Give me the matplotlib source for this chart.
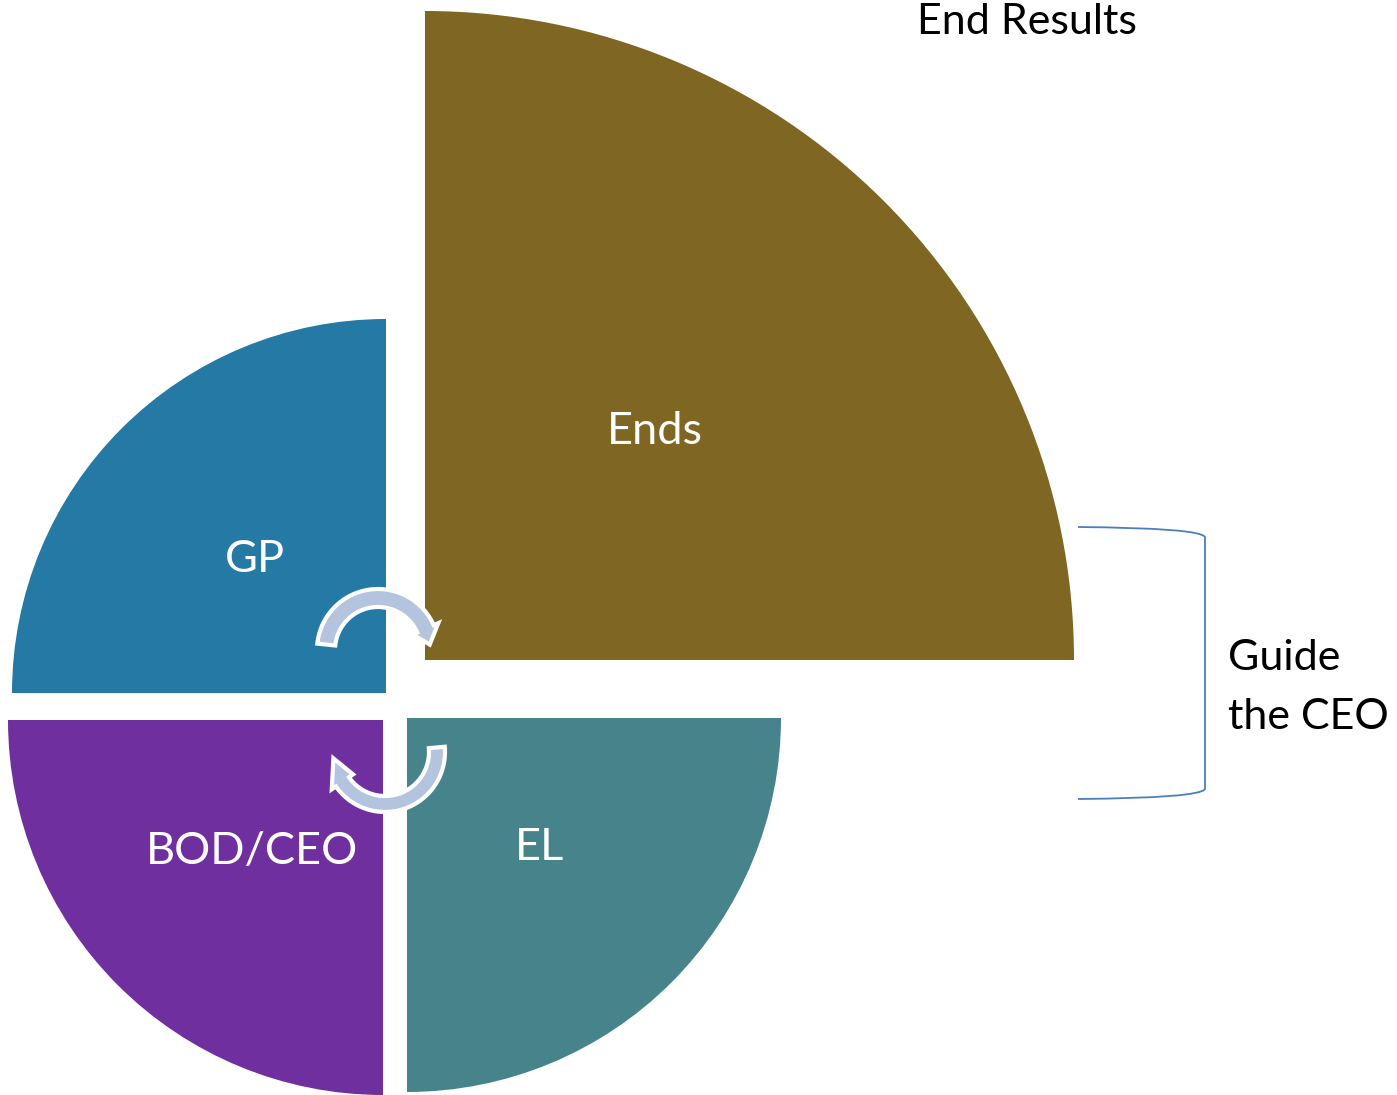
import numpy as np
import matplotlib.pyplot as plt
from matplotlib.patches import Wedge, Polygon, PathPatch
from matplotlib.path import Path

plt.rcParams['font.family'] = ['Lato', 'DejaVu Sans']

# quadrant pieces (pixel-space layout, y grows downward)
names = ["Ends", "GP", "BOD/CEO", "EL"]
radii = [649, 374, 375, 374]
centers = [(425, 660), (386, 693), (383, 720), (407, 718)]
angles = [(270, 360), (180, 270), (90, 180), (0, 90)]
colors = ["#7F6622", "#2479A5", "#6F2F9F", "#47838A"]
label_pos = [(655, 431), (255, 560), (252, 851), (540, 847)]

fig = plt.figure(figsize=(13.97, 10.95), dpi=100)
ax = fig.add_axes([0, 0, 1, 1])
ax.set_xlim(0, 1397)
ax.set_ylim(1095, 0)
ax.axis('off')

for n, r, c, a, col, lp in zip(names, radii, centers, angles, colors, label_pos):
    ax.add_patch(Wedge(c, r, a[0], a[1], facecolor=col, edgecolor='none'))
    ax.text(lp[0], lp[1], n, color='white', fontsize=32.5, ha='center', va='center')


def curved_arrow(cx, cy, r, hw, a0, a1, tip, head_hw):
    # band from angle a0 to a1 (degrees, y-down), head ending at angle tip
    t = np.radians(np.linspace(a0, a1, 60))
    outer = np.c_[cx + (r + hw) * np.cos(t), cy + (r + hw) * np.sin(t)]
    inner = np.c_[cx + (r - hw) * np.cos(t), cy + (r - hw) * np.sin(t)]
    ta = np.radians(a1)
    tt = np.radians(tip)
    head = [
        (cx + (r + head_hw) * np.cos(ta), cy + (r + head_hw) * np.sin(ta)),
        (cx + r * np.cos(tt), cy + r * np.sin(tt)),
        (cx + (r - head_hw) * np.cos(ta), cy + (r - head_hw) * np.sin(ta)),
    ]
    pts = np.vstack([outer, head, inner[::-1]])
    ax.add_patch(Polygon(pts, closed=True, facecolor='#B4C4DE',
                         edgecolor='white', lw=3, joinstyle='miter'))


curved_arrow(378, 650, 52, 9, 186, 336, 354, 14)
curved_arrow(385, 752, 52, 8, -5, 145, 173, 13)

# bracket
verts = [(1078, 527), (1200, 528), (1205, 537), (1205, 789),
         (1200, 798), (1078, 799)]
codes = [Path.MOVETO, Path.CURVE3, Path.CURVE3, Path.LINETO,
         Path.CURVE3, Path.CURVE3]
ax.add_patch(PathPatch(Path(verts, codes), facecolor='none',
                       edgecolor='#4A7EC0', lw=1.3))

ax.text(917, 22, "End Results", color='black', fontsize=31, ha='left', va='center')
ax.text(1228, 658, "Guide", color='black', fontsize=31, ha='left', va='center')
ax.text(1228, 717, "the CEO", color='black', fontsize=31, ha='left', va='center')

plt.savefig('out.png', dpi=100)
